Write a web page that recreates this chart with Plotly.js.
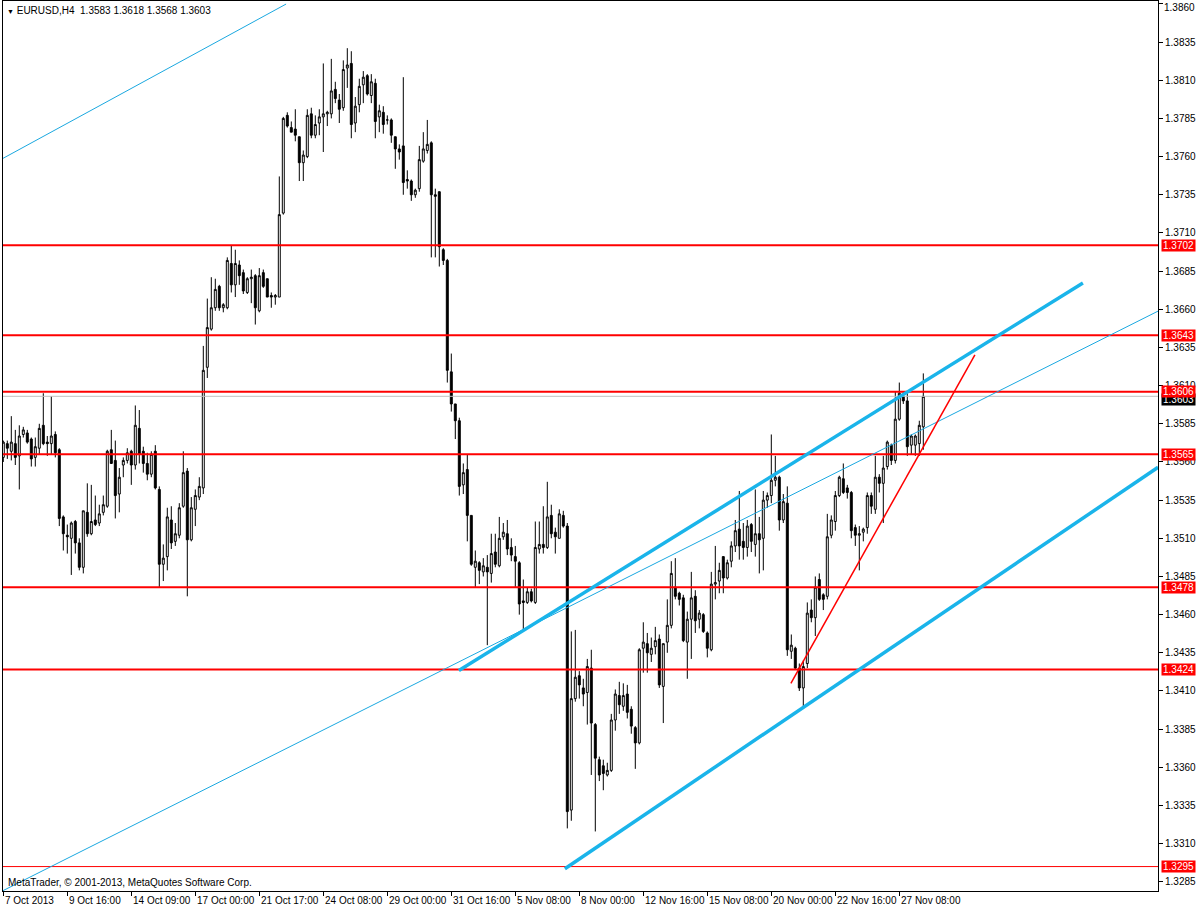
<!DOCTYPE html>
<html>
<head>
<meta charset="utf-8">
<script src="https://cdn.plot.ly/plotly-3.0.1.min.js"></script>
<style>html,body{margin:0;padding:0;background:#fff;}#chart{width:1198px;height:908px;}</style>
</head>
<body>
<div id="chart"></div>
<script>
// H4 bars, index 0 = 7 Oct 2013 00:00
const opens = [
1.3563,1.3572,1.3567,1.3572,1.3564,1.3578,1.3579,1.3575,1.3563,1.3569,
1.3584,1.3573,1.3572,1.3578,1.3568,1.3524,1.3512,1.3510,1.3521,1.3507,
1.3491,1.3527,1.3513,1.3522,1.3520,1.3527,1.3531,1.3568,1.3561,1.3539,
1.3558,1.3561,1.3567,1.3558,1.3582,1.3567,1.3559,1.3552,1.3567,1.3542,
1.3493,1.3498,1.3522,1.3508,1.3512,1.3531,1.3554,1.3509,1.3529,1.3537,
1.3543,1.3622,1.3647,1.3661,1.3675,1.3661,1.3661,1.3690,1.3676,1.3689,
1.3684,1.3671,1.3680,1.3682,1.3659,1.3684,1.3680,1.3669,1.3668,1.3668,
1.3723,1.3787,1.3779,1.3778,1.3773,1.3756,1.3760,1.3788,1.3774,1.3782,
1.3786,1.3788,1.3788,1.3804,1.3797,1.3792,1.3818,1.3821,1.3782,1.3794,
1.3807,1.3813,1.3800,1.3808,1.3786,1.3789,1.3784,1.3784,1.3773,1.3765,
1.3767,1.3745,1.3744,1.3735,1.3739,1.3757,1.3764,1.3769,1.3735,1.3737,
1.3699,1.3692,1.3619,1.3598,1.3587,1.3545,1.3555,1.3525,1.3491,1.3494,
1.3488,1.3491,1.3487,1.3501,1.3492,1.3511,1.3513,1.3504,1.3498,1.3494,
1.3469,1.3468,1.3475,1.3468,1.3503,1.3506,1.3504,1.3525,1.3514,1.3510,
1.3525,1.3518,1.3332,1.3405,1.3420,1.3412,1.3409,1.3425,1.3388,1.3365,
1.3361,1.3355,1.3358,1.3391,1.3407,1.3400,1.3408,1.3398,1.3386,1.3376,
1.3438,1.3441,1.3434,1.3439,1.3444,1.3413,1.3442,1.3453,1.3478,1.3474,
1.3471,1.3442,1.3457,1.3472,1.3457,1.3460,1.3448,1.3437,1.3480,1.3482,
1.3498,1.3484,1.3495,1.3505,1.3516,1.3508,1.3504,1.3519,1.3506,1.3513,
1.3510,1.3535,1.3538,1.3548,1.3550,1.3522,1.3533,1.3436,1.3438,1.3425,
1.3412,1.3428,1.3463,1.3458,1.3483,1.3473,1.3472,1.3512,1.3521,1.3538,
1.3549,1.3543,1.3540,1.3517,1.3512,1.3514,1.3517,1.3538,1.3529,1.3550,
1.3546,1.3557,1.3571,1.3561,1.3588,1.3603,1.3600,1.3571,1.3571,1.3572,
1.3583];
const highs = [
1.3574,1.3574,1.3590,1.3581,1.3584,1.3583,1.3581,1.3576,1.3576,1.3585,
1.3605,1.3577,1.3603,1.3580,1.3569,1.3525,1.3519,1.3521,1.3522,1.3510,
1.3528,1.3546,1.3545,1.3538,1.3532,1.3538,1.3568,1.3581,1.3574,1.3556,
1.3563,1.3569,1.3568,1.3597,1.3594,1.3570,1.3566,1.3567,1.3571,1.3544,
1.3506,1.3530,1.3531,1.3520,1.3533,1.3567,1.3556,1.3537,1.3542,1.3550,
1.3636,1.3667,1.3681,1.3680,1.3676,1.3664,1.3694,1.3702,1.3699,1.3692,
1.3686,1.3681,1.3686,1.3683,1.3687,1.3686,1.3680,1.3671,1.3670,1.3747,
1.3786,1.3789,1.3783,1.3791,1.3773,1.3764,1.3791,1.3792,1.3787,1.3791,
1.3821,1.3790,1.3824,1.3809,1.3801,1.3823,1.3831,1.3829,1.3799,1.3811,
1.3816,1.3814,1.3814,1.3811,1.3794,1.3793,1.3787,1.3785,1.3773,1.3768,
1.3812,1.3751,1.3745,1.3739,1.3767,1.3776,1.3784,1.3770,1.3739,1.3737,
1.3700,1.3693,1.3631,1.3598,1.3589,1.3559,1.3565,1.3525,1.3502,1.3495,
1.3497,1.3499,1.3513,1.3513,1.3524,1.3520,1.3522,1.3510,1.3505,1.3495,
1.3483,1.3478,1.3477,1.3521,1.3521,1.3531,1.3547,1.3532,1.3517,1.3529,
1.3528,1.3520,1.3449,1.3450,1.3423,1.3418,1.3431,1.3437,1.3389,1.3367,
1.3365,1.3363,1.3395,1.3411,1.3416,1.3415,1.3414,1.3400,1.3387,1.3438,
1.3455,1.3448,1.3445,1.3452,1.3447,1.3441,1.3470,1.3495,1.3497,1.3475,
1.3473,1.3462,1.3488,1.3476,1.3463,1.3461,1.3449,1.3488,1.3505,1.3494,
1.3498,1.3496,1.3508,1.3522,1.3541,1.3520,1.3522,1.3520,1.3542,1.3524,
1.3541,1.3540,1.3578,1.3564,1.3551,1.3539,1.3544,1.3447,1.3439,1.3428,
1.3430,1.3468,1.3470,1.3485,1.3487,1.3474,1.3526,1.3525,1.3541,1.3551,
1.3559,1.3545,1.3541,1.3519,1.3518,1.3517,1.3540,1.3540,1.3564,1.3552,
1.3564,1.3574,1.3572,1.3606,1.3612,1.3606,1.3606,1.3578,1.3578,1.3587,
1.3618];
const lows = [
1.3560,1.3562,1.3561,1.3558,1.3542,1.3576,1.3572,1.3557,1.3557,1.3565,
1.3571,1.3564,1.3565,1.3563,1.3518,1.3502,1.3500,1.3486,1.3500,1.3489,
1.3487,1.3511,1.3512,1.3518,1.3518,1.3525,1.3530,1.3559,1.3523,1.3527,
1.3550,1.3559,1.3545,1.3555,1.3559,1.3553,1.3548,1.3550,1.3542,1.3478,
1.3482,1.3489,1.3503,1.3505,1.3510,1.3530,1.3472,1.3508,1.3518,1.3535,
1.3539,1.3615,1.3646,1.3659,1.3659,1.3658,1.3660,1.3671,1.3668,1.3676,
1.3670,1.3670,1.3664,1.3650,1.3658,1.3674,1.3668,1.3661,1.3663,1.3668,
1.3722,1.3779,1.3776,1.3770,1.3744,1.3744,1.3759,1.3772,1.3772,1.3774,
1.3763,1.3780,1.3785,1.3795,1.3782,1.3790,1.3805,1.3772,1.3776,1.3789,
1.3795,1.3800,1.3795,1.3772,1.3776,1.3775,1.3781,1.3769,1.3752,1.3758,
1.3735,1.3739,1.3731,1.3733,1.3737,1.3756,1.3762,1.3694,1.3694,1.3688,
1.3689,1.3612,1.3593,1.3575,1.3538,1.3539,1.3508,1.3492,1.3478,1.3480,
1.3485,1.3440,1.3481,1.3491,1.3491,1.3509,1.3499,1.3495,1.3478,1.3460,
1.3449,1.3467,1.3468,1.3467,1.3500,1.3500,1.3503,1.3510,1.3500,1.3510,
1.3517,1.3320,1.3325,1.3403,1.3405,1.3400,1.3388,1.3355,1.3318,1.3351,
1.3345,1.3354,1.3357,1.3384,1.3395,1.3397,1.3392,1.3382,1.3359,1.3375,
1.3422,1.3422,1.3429,1.3434,1.3412,1.3389,1.3435,1.3451,1.3470,1.3466,
1.3442,1.3418,1.3431,1.3448,1.3451,1.3448,1.3432,1.3436,1.3470,1.3474,
1.3474,1.3483,1.3491,1.3501,1.3496,1.3496,1.3498,1.3501,1.3498,1.3487,
1.3489,1.3530,1.3533,1.3544,1.3515,1.3520,1.3433,1.3431,1.3424,1.3410,
1.3400,1.3425,1.3455,1.3446,1.3469,1.3463,1.3470,1.3510,1.3515,1.3537,
1.3539,1.3536,1.3510,1.3505,1.3489,1.3508,1.3513,1.3526,1.3526,1.3540,
1.3520,1.3555,1.3558,1.3559,1.3587,1.3598,1.3564,1.3565,1.3564,1.3564,
1.3568];
const closes = [
1.3573,1.3569,1.3573,1.3563,1.3577,1.3581,1.3573,1.3562,1.3570,1.3582,
1.3572,1.3572,1.3577,1.3566,1.3523,1.3513,1.3511,1.3520,1.3507,1.3491,
1.3528,1.3513,1.3521,1.3519,1.3526,1.3532,1.3567,1.3559,1.3538,1.3550,
1.3561,1.3566,1.3558,1.3584,1.3565,1.3559,1.3552,1.3565,1.3543,1.3493,
1.3497,1.3524,1.3507,1.3513,1.3530,1.3553,1.3509,1.3530,1.3538,1.3544,
1.3620,1.3648,1.3661,1.3673,1.3661,1.3663,1.3692,1.3676,1.3690,1.3682,
1.3672,1.3680,1.3681,1.3661,1.3682,1.3675,1.3668,1.3668,1.3669,1.3722,
1.3785,1.3780,1.3776,1.3774,1.3756,1.3761,1.3787,1.3774,1.3781,1.3786,
1.3788,1.3789,1.3803,1.3798,1.3791,1.3817,1.3820,1.3781,1.3793,1.3806,
1.3812,1.3801,1.3809,1.3783,1.3790,1.3781,1.3784,1.3774,1.3765,1.3763,
1.3743,1.3744,1.3735,1.3738,1.3758,1.3765,1.3768,1.3735,1.3734,1.3701,
1.3692,1.3620,1.3598,1.3587,1.3544,1.3553,1.3525,1.3493,1.3495,1.3489,
1.3492,1.3488,1.3500,1.3493,1.3510,1.3514,1.3503,1.3499,1.3495,1.3467,
1.3468,1.3475,1.3469,1.3504,1.3506,1.3504,1.3524,1.3513,1.3511,1.3526,
1.3518,1.3331,1.3405,1.3419,1.3414,1.3408,1.3426,1.3389,1.3366,1.3355,
1.3356,1.3358,1.3391,1.3408,1.3401,1.3407,1.3396,1.3387,1.3376,1.3437,
1.3442,1.3435,1.3438,1.3443,1.3414,1.3441,1.3453,1.3487,1.3472,1.3470,
1.3443,1.3457,1.3471,1.3456,1.3461,1.3449,1.3438,1.3480,1.3481,1.3489,
1.3484,1.3494,1.3505,1.3515,1.3505,1.3504,1.3518,1.3508,1.3513,1.3509,
1.3535,1.3538,1.3548,1.3550,1.3522,1.3534,1.3437,1.3440,1.3425,1.3412,
1.3426,1.3461,1.3458,1.3478,1.3470,1.3470,1.3511,1.3522,1.3538,1.3550,
1.3540,1.3540,1.3515,1.3512,1.3513,1.3516,1.3538,1.3531,1.3550,1.3546,
1.3556,1.3573,1.3561,1.3588,1.3605,1.3600,1.3570,1.3577,1.3577,1.3584,
1.3603];

// time axis labels (every 16 bars)
const tickBars = [0,16,32,48,64,80,96,112,128,144,160,176,192,208,224];
const tickLabels = ["7 Oct 2013","9 Oct 16:00","14 Oct 09:00","17 Oct 00:00","21 Oct 17:00",
  "24 Oct 08:00","29 Oct 00:00","31 Oct 16:00","5 Nov 08:00","8 Nov 00:00",
  "12 Nov 16:00","15 Nov 08:00","20 Nov 00:00","22 Nov 16:00","27 Nov 08:00"];

// price scale ticks
const priceTicks = [1.3285,1.3310,1.3335,1.3360,1.3385,1.3410,1.3435,1.3460,1.3485,1.3510,1.3535,1.3560,
  1.3585,1.3610,1.3635,1.3660,1.3685,1.3710,1.3735,1.3760,1.3785,1.3810,1.3835,1.3860];
const topPriceTick = 1.3860;

// horizontal levels
const redLevels = [1.3702, 1.3643, 1.3606, 1.3565, 1.3478, 1.3424];
const thinRedLevels = [1.3295];
const bidLevel = 1.3603;

// trend lines: [bar0, price0, bar1, price1]
const thinChannelTop = [-0.1, 1.37588, 70.7, 1.38599];
const thinChannelLong = [-0.1, 1.32792, 288.7, 1.36588];
const thickUpper = [113.9, 1.34234, 269.9, 1.36772];
const thickLower = [140.4, 1.32936, 288.7, 1.35565];
const redTrend = [196.9, 1.3415, 242.9, 1.36302];

const titleText = "EURUSD,H4\u00a0\u00a01.3583 1.3618 1.3568 1.3603";
const copyrightText = "MetaTrader, © 2001-2013, MetaQuotes Software Corp.";

const idx = opens.map((_, i) => i);
const FONT = "Liberation Sans, Arial, sans-serif";

const trace = {
  type: 'candlestick',
  x: idx, open: opens, high: highs, low: lows, close: closes,
  increasing: {line: {color: '#000000', width: 1}, fillcolor: '#ffffff'},
  decreasing: {line: {color: '#000000', width: 1}, fillcolor: '#000000'},
  whiskerwidth: 0,
  hoverinfo: 'none'
};

const shapes = [];
function lineShape(arr, color, width) {
  shapes.push({type: 'line', xref: 'x', yref: 'y', x0: arr[0], y0: arr[1], x1: arr[2], y1: arr[3],
    line: {color: color, width: width}, layer: 'above'});
}
shapes.push({type: 'line', xref: 'paper', yref: 'y', x0: 0, x1: 1, y0: bidLevel, y1: bidLevel,
  line: {color: '#c0c0c0', width: 1}, layer: 'above'});
redLevels.forEach(v => shapes.push({type: 'line', xref: 'paper', yref: 'y', x0: 0, x1: 1, y0: v, y1: v,
  line: {color: '#ff0000', width: 2}, layer: 'above'}));
thinRedLevels.forEach(v => shapes.push({type: 'line', xref: 'paper', yref: 'y', x0: 0, x1: 1, y0: v, y1: v,
  line: {color: '#ff0000', width: 1}, layer: 'above'}));
lineShape(thinChannelTop, '#1aa8e0', 1);
lineShape(thinChannelLong, '#1aa8e0', 1);
lineShape(thickUpper, '#1ab4ea', 3.5);
lineShape(thickLower, '#1ab4ea', 3.5);
lineShape(redTrend, '#ff0000', 1.5);

const annotations = [];
tickBars.forEach((b, k) => annotations.push({
  xref: 'x', yref: 'paper', x: b, y: 0, xanchor: 'left', yanchor: 'top', xshift: 0, yshift: -2,
  text: tickLabels[k], showarrow: false, font: {family: FONT, size: 10, color: '#000'}
}));
// top price label, kept inside the page
annotations.push({xref: 'paper', yref: 'paper', x: 1, y: 1, xanchor: 'left', yanchor: 'top', xshift: 4, yshift: 1,
  text: topPriceTick.toFixed(4), showarrow: false, font: {family: FONT, size: 10, color: '#000'}});
// current bid (black) then level labels (red) on the price scale
annotations.push({xref: 'paper', yref: 'y', x: 1, y: bidLevel - 0.0002, xanchor: 'left', yanchor: 'middle', xshift: 3,
  text: bidLevel.toFixed(4), showarrow: false, bgcolor: '#000000', width: 33, height: 11, borderpad: 0,
  font: {family: FONT, size: 10, color: '#ffffff'}});
redLevels.concat(thinRedLevels).forEach(v => annotations.push({
  xref: 'paper', yref: 'y', x: 1, y: v, xanchor: 'left', yanchor: 'middle', xshift: 3,
  text: v.toFixed(4), showarrow: false, bgcolor: '#ff0000', width: 33, height: 11, borderpad: 0,
  font: {family: FONT, size: 10, color: '#ffffff'}
}));
annotations.push({xref: 'paper', yref: 'paper', x: 0, y: 1, xanchor: 'left', yanchor: 'top', xshift: 2, yshift: -2,
  text: '<span style="font-size:7px">▼</span> ' + titleText, showarrow: false, font: {family: FONT, size: 10, color: '#000'}});
annotations.push({xref: 'paper', yref: 'paper', x: 0, y: 0, xanchor: 'left', yanchor: 'bottom', xshift: 3, yshift: 1,
  text: copyrightText, showarrow: false, font: {family: FONT, size: 10, color: '#000'}});

const layout = {
  width: 1198, height: 908,
  margin: {l: 3, r: 40, t: 1, b: 17, pad: 0},
  paper_bgcolor: '#ffffff', plot_bgcolor: '#ffffff',
  showlegend: false,
  xaxis: {
    range: [-0.075, 288.675], rangeslider: {visible: false},
    showgrid: false, zeroline: false, showline: true, linecolor: '#000', linewidth: 1, mirror: true,
    tickmode: 'array', tickvals: tickBars, showticklabels: false,
    ticks: 'outside', ticklen: 4, tickcolor: '#000', tickwidth: 1, fixedrange: true
  },
  yaxis: {
    side: 'right', range: [1.32790, 1.38619],
    tickmode: 'array', tickvals: priceTicks,
    ticktext: priceTicks.map(v => v === topPriceTick ? '' : v.toFixed(4)),
    showgrid: false, zeroline: false, showline: true, linecolor: '#000', linewidth: 1, mirror: true,
    ticks: 'outside', ticklen: 4, tickcolor: '#000', tickwidth: 1,
    tickfont: {family: FONT, size: 10, color: '#000'}, fixedrange: true
  },
  shapes: shapes,
  annotations: annotations
};

Plotly.newPlot('chart', [trace], layout, {displayModeBar: false, staticPlot: true});
</script>
</body>
</html>
